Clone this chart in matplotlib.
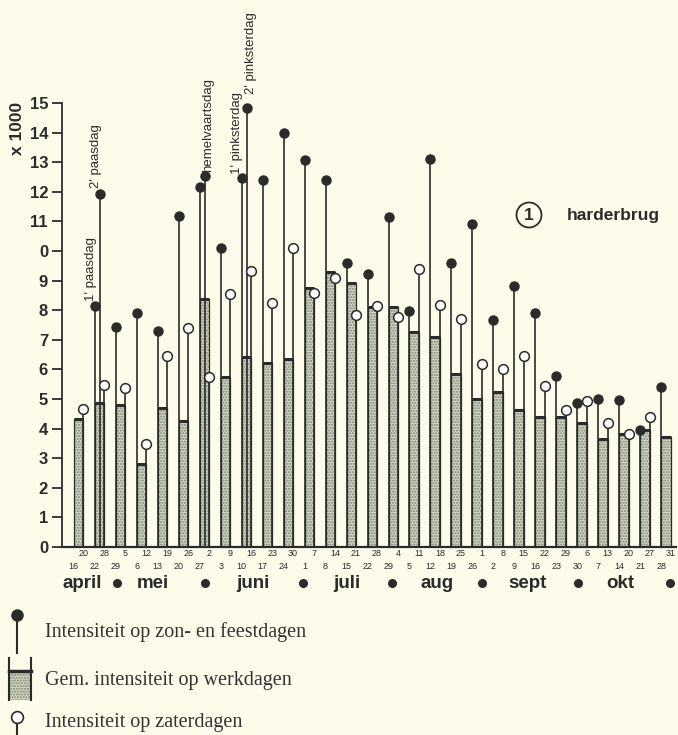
import matplotlib.pyplot as plt
import numpy as np
from matplotlib.patches import Circle, Rectangle
from matplotlib.transforms import blended_transform_factory

# ---- data (x 1000 vehicles) ----
werkdagen = [4.32, 4.86, 4.80, 2.80, 4.70, 4.26, 8.38, 5.74, 6.42, 6.22, 6.35, 8.75, 9.29, 8.92,
             8.11, 8.11, 7.26, 7.09, 5.84, 5.00, 5.24, 4.63, 4.39, 4.39, 4.19, 3.65, 3.82, 3.95, 3.72]
zaterdag = [4.66, 5.47, 5.37, 3.48, 6.45, 7.40, 5.74, 8.55, 9.32, 8.24, 10.10, 8.58, 9.09, 7.84,
            8.14, 7.77, 9.39, 8.18, 7.70, 6.18, 6.01, 6.45, 5.44, 4.63, 4.93, 4.19, 3.82, 4.39, None]
zondag = [None, 8.14, 7.43, 7.91, 7.30, 11.18, 12.16, 10.10, 12.47, 12.40, 13.99, 13.07, 12.40, 9.59,
          9.22, 11.15, 7.97, 13.11, 9.59, 10.91, 7.67, 8.82, 7.91, 5.78, 4.86, 5.00, 4.97, 3.95, 5.41]

# extra holidays inside a week
feest_idx = [1, 6, 8]
feest_vals = [11.93, 12.53, 14.83]

# labelled holidays: (week index, value, on extra line?, label)
feest_labels = [(1, 8.14, False, "1' paasdag"),
                (1, 11.93, True, "2' paasdag"),
                (6, 12.53, True, "hemelvaartsdag"),
                (8, 12.47, False, "1' pinksterdag"),
                (8, 14.83, True, "2' pinksterdag")]

datum_boven = ['20', '28', '5', '12', '19', '26', '2', '9', '16', '23', '30', '7', '14', '21', '28',
               '4', '11', '18', '25', '1', '8', '15', '22', '29', '6', '13', '20', '27', '31']
datum_onder = ['16', '22', '29', '6', '13', '20', '27', '3', '10', '17', '24', '1', '8', '15', '22',
               '29', '5', '12', '19', '26', '2', '9', '16', '23', '30', '7', '14', '21', '28']
maanden = ['april', 'mei', 'juni', 'juli', 'aug', 'sept', 'okt']
ytick_labels = ['0', '1', '2', '3', '4', '5', '6', '7', '8', '9', '0', '11', '12', '13', '14', '15']

# ---- style ----
BG = '#fdfcea'
INK = '#2b2b2b'
FILL = '#d2d6c2'
DOTS = '#7f8472'
plt.rcParams['font.family'] = ['Liberation Sans', 'DejaVu Sans']

W, H = 678, 735
fig = plt.figure(figsize=(W / 100, H / 100), dpi=100)
fig.patch.set_facecolor(BG)

ax = fig.add_axes([62 / W, (H - 547) / H, (676 - 62) / W, 444 / H])
ax.set_facecolor('none')
ax.set_xlim(-0.79, 28.48)
ax.set_ylim(0, 15)

x = np.arange(len(werkdagen))
BW = 0.45

# bars: stippled fill, then outline, then heavy top
ax.bar(x, werkdagen, width=BW, facecolor=FILL, edgecolor=DOTS, hatch='......',
       linewidth=0, zorder=2)
ax.bar(x, werkdagen, width=BW, facecolor='none', edgecolor=INK, linewidth=0.9, zorder=3)
ax.hlines(werkdagen, x - BW / 2, x + BW / 2, color=INK, lw=2.2, zorder=4)

# sundays / holidays (filled)
zx = np.array([i - BW / 2 for i, v in enumerate(zondag) if v is not None])
zv = np.array([v for v in zondag if v is not None])
ax.vlines(zx, 0, zv, color=INK, lw=1.2, zorder=3.5)
ax.plot(zx, zv, 'o', ms=6.5, color=INK, zorder=6, clip_on=False)

fx = np.array(feest_idx) + 0.03
ax.vlines(fx, 0, feest_vals, color=INK, lw=1.2, zorder=3.5)
ax.plot(fx, feest_vals, 'o', ms=6.5, color=INK, zorder=6, clip_on=False)

# saturdays (open)
sx = np.array([i + BW / 2 for i, v in enumerate(zaterdag) if v is not None])
sv = np.array([v for v in zaterdag if v is not None])
ax.vlines(sx, 0, sv, color=INK, lw=1.2, zorder=3.5)
ax.plot(sx, sv, 'o', ms=7, markerfacecolor='white', markeredgecolor=INK, markeredgewidth=1.1,
        zorder=6, clip_on=False)

# holiday labels
offsets = {"1' paasdag": (-2.5, 4), "2' paasdag": (-3, 4), "hemelvaartsdag": (2, 3),
           "1' pinksterdag": (-3.5, 3), "2' pinksterdag": (3, 10)}
for i, v, extra, lab in feest_labels:
    xp = i + 0.03 if extra else i - BW / 2
    dx, dy = offsets[lab]
    ax.annotate(lab, xy=(xp, v), xytext=(dx, dy), textcoords='offset points', rotation=90,
                ha='center', va='bottom', fontsize=9.5, color=INK)

# axes styling
for s in ['top', 'right']:
    ax.spines[s].set_visible(False)
ax.spines['left'].set_linewidth(1.3)
ax.spines['bottom'].set_linewidth(1.6)
ax.spines['left'].set_color(INK)
ax.spines['bottom'].set_color(INK)
ax.set_yticks(range(16))
ax.set_yticklabels(ytick_labels, fontweight='bold')
ax.tick_params(axis='y', direction='out', length=7, width=1.3, pad=3, labelsize=12,
               colors=INK)
ax.set_xticks([])

trans = blended_transform_factory(ax.transData, ax.transAxes)
for i in x:
    ax.text(i + BW / 2, -0.014, datum_boven[i], transform=trans, ha='center', va='center',
            fontsize=6.5, color=INK)
    ax.text(i - BW / 2, -0.043, datum_onder[i], transform=trans, ha='center', va='center',
            fontsize=6.5, color=INK)

maand_x = [0.16, 3.55, 8.31, 12.79, 17.08, 21.42, 25.81]
bullet_x = [1.83, 6.03, 10.70, 14.94, 19.23, 23.80, 28.19]
for m, mx in zip(maanden, maand_x):
    ax.text(mx, -0.082, m, transform=trans, ha='center', va='center', fontsize=13.5,
            fontweight='bold', color=INK)
ax.plot(bullet_x, [-0.08] * len(bullet_x), 'o', ms=5.5, color=INK, transform=trans,
        clip_on=False)

fig.text(18 / W, 1 - 128 / H, 'x 1000', rotation=90, ha='center', va='center', fontsize=12.5,
         fontweight='bold', color=INK)

# overlay in pixel coordinates for legend and site label
lax = fig.add_axes([0, 0, 1, 1])
lax.set_xlim(0, W)
lax.set_ylim(H, 0)
lax.axis('off')

lax.plot([17, 17], [615, 653], color=INK, lw=1.5)
lax.plot(17, 615, 'o', ms=8, color=INK)
lax.add_patch(Rectangle((9, 671), 22, 29, facecolor=FILL, edgecolor=DOTS,
                        hatch='......', lw=0))
lax.plot([9, 9], [658, 700], color=INK, lw=1.5)
lax.plot([31, 31], [658, 700], color=INK, lw=1.5)
lax.plot([9, 31], [671, 671], color=INK, lw=2.5)
lax.plot([17, 17], [717, 735], color=INK, lw=1.5)
lax.plot(17, 717, 'o', ms=8.5, markerfacecolor='white', markeredgecolor=INK, markeredgewidth=1.2)

legend_texts = ['Intensiteit op zon- en feestdagen', 'Gem. intensiteit op werkdagen',
                'Intensiteit op zaterdagen']
for t, ty in zip(legend_texts, [632, 680, 723]):
    lax.text(45, ty, t, ha='left', va='center', fontsize=14.5, color='#333333',
             family=['Liberation Serif', 'DejaVu Serif'])

lax.add_patch(Circle((529, 215), 12.5, facecolor='none', edgecolor=INK, lw=1.3))
lax.text(529, 215, '1', ha='center', va='center', fontsize=12.5, fontweight='bold', color=INK)
lax.text(567, 215, 'harderbrug', ha='left', va='center', fontsize=12.5, fontweight='bold',
         color=INK)

fig.savefig('out.png', dpi=100, facecolor=BG)
